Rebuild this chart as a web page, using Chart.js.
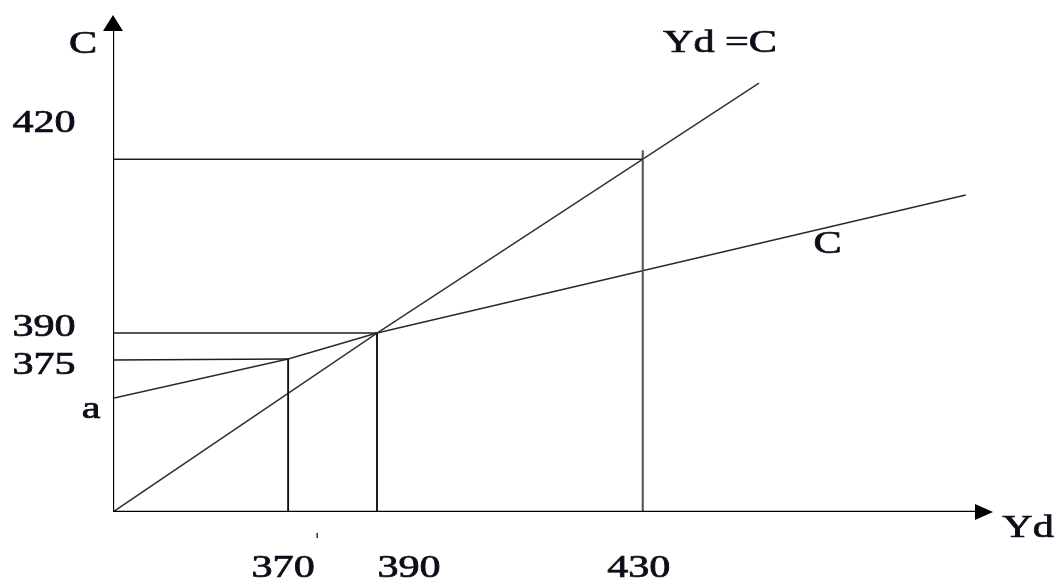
<!DOCTYPE html>
<html>
<head>
<meta charset="utf-8">
<title>C = a + bYd</title>
<script src="https://cdn.jsdelivr.net/npm/chart.js@4.4.1/dist/chart.umd.min.js"></script>
<style>
  html, body { margin: 0; padding: 0; background: #fff; }
  #wrap { width: 1056px; height: 581px; }
</style>
</head>
<body>
<div id="wrap"><canvas id="diagram" width="1056" height="581"></canvas></div>
<script>
// schematic diagram: positions are in diagram units (0-100 on both axes), the picture is not to scale
const xTickValues = [19.9, 30, 60.2];
const xTickLabels = ['370', '390', '430'];
const yTickValues = [71, 36, 30.6, 22.9];
const yTickLabels = ['420', '390', '375', 'a'];

// consumption function C
const consX = [0, 19.9, 30, 96.9];
const consY = [22.9, 30.8, 36, 63.8];

// 45 degree line Yd = C
const lineX = [0, 30, 73.4];
const lineY = [0, 36, 86.3];

// tops of the vertical guide lines
const guideTops = [30.8, 36, 72.8];

function pts(xs, ys) {
  const out = [];
  for (let i = 0; i < xs.length; i++) {
    out.push({ x: xs[i], y: ys[i] });
  }
  return out;
}

function seg(x1, y1, x2, y2) {
  return [{ x: x1, y: y1 }, { x: x2, y: y2 }];
}

const lineStyle = { showLine: true, pointRadius: 0, borderColor: '#1e1e1e', borderWidth: 1.5, fill: false };
const datasets = [];

// axes
datasets.push(Object.assign({}, lineStyle, { data: seg(0, 0, 0, 98), borderColor: '#000', borderWidth: 2.3 }));
datasets.push(Object.assign({}, lineStyle, { data: seg(0, 0, 98, 0), borderColor: '#000', borderWidth: 2.3 }));

// horizontal guides from the C axis
datasets.push(Object.assign({}, lineStyle, { data: seg(0, yTickValues[0], xTickValues[2], yTickValues[0]) }));
datasets.push(Object.assign({}, lineStyle, { data: seg(0, yTickValues[1], xTickValues[1], yTickValues[1]) }));
datasets.push(Object.assign({}, lineStyle, { data: seg(0, yTickValues[2], xTickValues[0], guideTops[0]) }));

// vertical guides from the Yd axis
datasets.push(Object.assign({}, lineStyle, { data: seg(xTickValues[0], 0, xTickValues[0], guideTops[0]), borderColor: '#111', borderWidth: 1.9 }));
datasets.push(Object.assign({}, lineStyle, { data: seg(xTickValues[1], 0, xTickValues[1], guideTops[1]), borderColor: '#111', borderWidth: 1.9 }));
datasets.push(Object.assign({}, lineStyle, { data: seg(xTickValues[2], 0, xTickValues[2], guideTops[2]), borderColor: '#555', borderWidth: 2.1 }));

// the two functions
datasets.push(Object.assign({}, lineStyle, { data: pts(lineX, lineY), borderColor: '#333' }));
datasets.push(Object.assign({}, lineStyle, { data: pts(consX, consY), borderColor: '#2a2a2a' }));

// label nudges in pixels (the labels sit a bit off their lines in the drawing)
const yLabelNudge = [-35, -5, 6, 12];

const labelsPlugin = {
  id: 'labelsPlugin',
  afterDatasetsDraw(chart) {
    const ctx = chart.ctx;
    const xs = chart.scales.x;
    const ys = chart.scales.y;
    const ox = xs.getPixelForValue(0);
    const oy = ys.getPixelForValue(0);

    function text(str, x, y) {
      ctx.save();
      ctx.translate(x, y);
      ctx.scale(1.36, 1);
      ctx.fillText(str, 0, 0);
      ctx.strokeText(str, 0, 0);
      ctx.restore();
    }

    ctx.save();
    // arrow heads
    ctx.fillStyle = '#000';
    const topY = ys.getPixelForValue(100);
    ctx.beginPath();
    ctx.moveTo(ox, topY);
    ctx.lineTo(ox - 10, topY + 16);
    ctx.lineTo(ox + 10, topY + 16);
    ctx.closePath();
    ctx.fill();
    const rightX = xs.getPixelForValue(100);
    ctx.beginPath();
    ctx.moveTo(rightX, oy);
    ctx.lineTo(rightX - 18, oy - 8);
    ctx.lineTo(rightX - 18, oy + 8);
    ctx.closePath();
    ctx.fill();

    ctx.fillStyle = '#0d0d1a';
    ctx.strokeStyle = '#0d0d1a';
    ctx.lineWidth = 0.7;
    ctx.font = '31px "Liberation Serif", "DejaVu Serif", serif';
    ctx.textAlign = 'center';
    ctx.textBaseline = 'middle';

    for (let i = 0; i < yTickValues.length; i++) {
      const py = ys.getPixelForValue(yTickValues[i]) + yLabelNudge[i];
      const px = yTickLabels[i] === 'a' ? ox - 22 : ox - 69;
      text(yTickLabels[i], px, py);
    }
    for (let i = 0; i < xTickValues.length; i++) {
      const shift = i === 1 ? 32 : (i === 0 ? -5 : -4);
      text(xTickLabels[i], xs.getPixelForValue(xTickValues[i]) + shift, oy + 57);
    }

    // axis titles
    text('C', ox - 30, topY + 30);
    text('Yd', rightX + 35, oy + 17);

    // curve labels
    text('Yd =C', xs.getPixelForValue(lineX[2]) - 39, ys.getPixelForValue(lineY[2]) - 39);
    text('C', xs.getPixelForValue(81.2), ys.getPixelForValue(57.2) + 17);

    // stray tick mark under the axis
    ctx.fillRect(xs.getPixelForValue(23.2) - 0.6, oy + 21, 1.3, 5);
    ctx.restore();
  }
};

new Chart(document.getElementById('diagram'), {
  type: 'scatter',
  data: { datasets: datasets },
  options: {
    responsive: false,
    animation: false,
    events: [],
    layout: { padding: { left: 113, right: 63, top: 15, bottom: 69 } },
    plugins: {
      legend: { display: false },
      tooltip: { enabled: false }
    },
    scales: {
      x: { type: 'linear', min: 0, max: 100, display: false },
      y: { type: 'linear', min: 0, max: 100, display: false }
    },
    elements: { line: { tension: 0, borderCapStyle: 'butt' } }
  },
  plugins: [labelsPlugin]
});
</script>
</body>
</html>
